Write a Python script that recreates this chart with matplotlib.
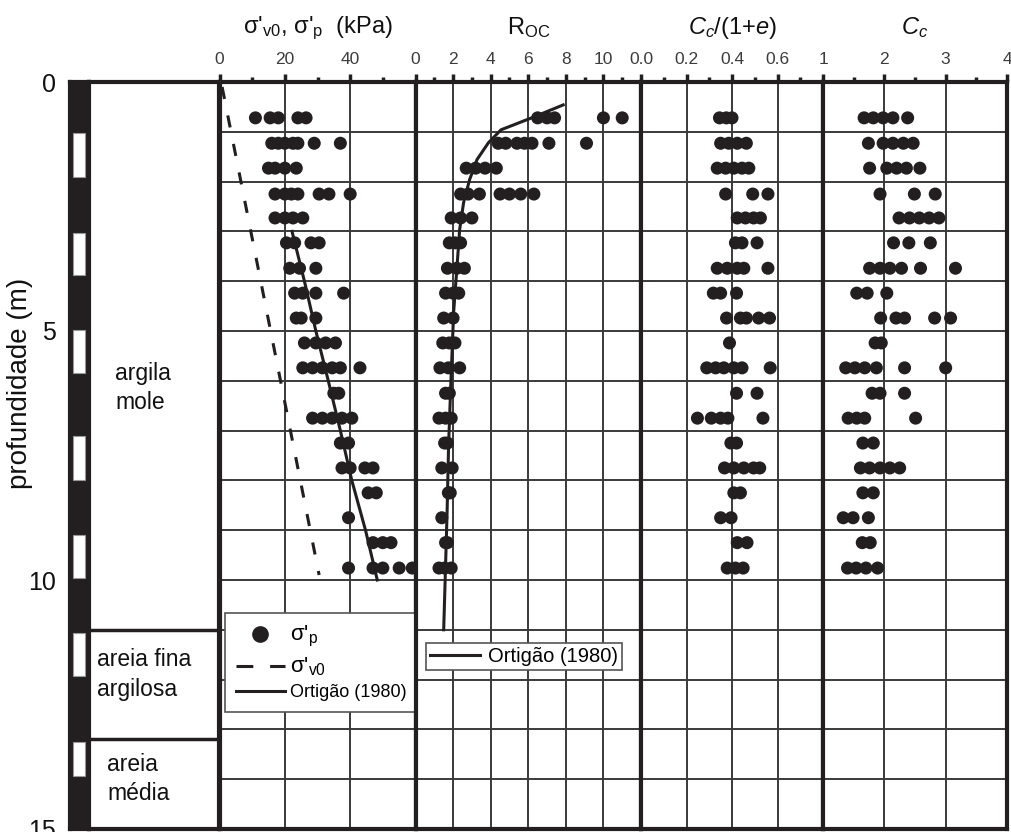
import numpy as np
import matplotlib
matplotlib.use('Agg')
import matplotlib.pyplot as plt
from matplotlib.lines import Line2D
from matplotlib.patches import Rectangle

plt.rcParams['font.family'] = ['Liberation Sans', 'DejaVu Sans']
plt.rcParams['mathtext.fontset'] = 'custom'
plt.rcParams['mathtext.rm'] = 'Liberation Sans'
plt.rcParams['mathtext.it'] = 'Liberation Sans:italic'
plt.rcParams['mathtext.bf'] = 'Liberation Sans:bold'

# ---------------- data ----------------
row_depths = [0.72, 1.23, 1.73, 2.25, 2.73, 3.23, 3.74, 4.24, 4.74, 5.24,
              5.74, 6.25, 6.75, 7.25, 7.75, 8.25, 8.75, 9.25, 9.76]

sigma_p = [
    [11, 15.5, 18, 24, 26.5],
    [16, 18, 20, 22.5, 24, 29, 37],
    [15, 17, 20, 23.5],
    [17, 20, 22, 24, 30.5, 33.5, 40],
    [17, 20, 22.5, 25.5],
    [20.5, 23, 28, 30.5],
    [21.5, 24.5, 29.5],
    [23, 25.5, 29.5, 38],
    [23.5, 25, 29.5],
    [26, 29.5, 32.5, 35.5],
    [25.5, 28.5, 31.5, 34.5, 37, 43],
    [35, 36.5],
    [28.5, 31.5, 34.5, 37.5, 40.5],
    [37, 39.5],
    [37.5, 40, 44.5, 47],
    [45.5, 48],
    [39.5],
    [47, 50, 52.5],
    [39.5, 47, 50, 55, 59],
]

roc = [
    [6.5, 7.0, 7.4, 10.0, 11.0],
    [4.4, 4.8, 5.4, 5.8, 6.2, 7.1, 9.1],
    [2.7, 3.2, 3.7, 4.3],
    [2.4, 2.8, 3.4, 4.5, 5.0, 5.6, 6.3],
    [1.9, 2.4, 3.0],
    [1.8, 2.1, 2.4],
    [1.7, 2.2, 2.6],
    [1.6, 2.0, 2.3],
    [1.5, 2.0],
    [1.45, 1.8, 2.1],
    [1.3, 1.75, 2.35],
    [1.6, 1.8],
    [1.25, 1.6, 1.9],
    [1.55, 1.7],
    [1.4, 1.95],
    [1.75, 1.85],
    [1.4],
    [1.6, 1.7],
    [1.25, 1.55, 1.9],
]

cc_1e = [
    [0.345, 0.375, 0.40],
    [0.35, 0.386, 0.423, 0.463],
    [0.335, 0.372, 0.408, 0.444, 0.474],
    [0.372, 0.491, 0.558],
    [0.423, 0.459, 0.495, 0.525],
    [0.415, 0.444, 0.51],
    [0.335, 0.379, 0.423, 0.452, 0.558],
    [0.318, 0.35, 0.42],
    [0.376, 0.437, 0.463, 0.517, 0.565],
    [0.389],
    [0.289, 0.328, 0.364, 0.408, 0.444, 0.568],
    [0.42, 0.51],
    [0.248, 0.309, 0.35, 0.382, 0.536],
    [0.395, 0.42],
    [0.367, 0.408, 0.452, 0.495, 0.522],
    [0.408, 0.437],
    [0.35, 0.396],
    [0.423, 0.466],
    [0.379, 0.415, 0.449],
]

cc = [
    [1.67, 1.82, 1.98, 2.14, 2.38],
    [1.74, 1.98, 2.14, 2.31, 2.47],
    [1.76, 2.04, 2.2, 2.36, 2.58],
    [1.93, 2.49, 2.83],
    [2.24, 2.41, 2.57, 2.73, 2.89],
    [2.15, 2.4, 2.75],
    [1.76, 1.93, 2.09, 2.28, 2.59, 3.16],
    [1.55, 1.72, 2.04],
    [1.94, 2.19, 2.33, 2.82, 3.08],
    [1.85, 1.95],
    [1.37, 1.52, 1.68, 1.87, 2.33, 3.0],
    [1.8, 1.93, 2.33],
    [1.41, 1.55, 1.68, 2.51],
    [1.65, 1.82],
    [1.61, 1.76, 1.93, 2.09, 2.25],
    [1.65, 1.82],
    [1.33, 1.49, 1.74],
    [1.64, 1.77],
    [1.4, 1.54, 1.7, 1.89],
]

sigma_v0_depth = [0.1, 9.9]
sigma_v0 = [0.8, 30.5]

ortigao_sigma_depth = [3.0, 4.0, 5.0, 6.0, 7.0, 8.0, 9.0, 10.0]
ortigao_sigma = [22.2, 26.0, 29.5, 33.3, 37.0, 40.5, 44.7, 48.3]

ortigao_roc_depth = [0.46, 0.72, 0.96, 1.22, 1.56, 1.96, 2.42, 2.96, 3.7,
                     4.62, 5.96, 7.3, 8.66, 10.36, 11.0]
ortigao_roc = [7.86, 6.18, 4.55, 3.88, 3.27, 2.88, 2.56, 2.35, 2.21,
               2.03, 1.89, 1.76, 1.68, 1.55, 1.5]

soil_labels = ['argila\nmole', 'areia fina\nargilosa', 'areia\nmédia']
soil_bounds = [11.0, 13.2]
soil_label_depth = [6.15, 11.9, 14.0]
soil_label_x = [0.2, 0.06, 0.14]

strip_white_top = [1.03, 3.03, 4.97, 7.10, 9.10, 11.06, 13.26]
strip_white_len = [0.88, 0.85, 0.88, 0.90, 0.86, 0.86, 0.68]

depth_ticks = [0, 5, 10, 15]
depth_ticklabels = ['0', '5', '10', '15']

panel_xlims = [(0, 60), (0, 12), (0, 0.8), (1, 4)]
panel_major = [[0, 20, 40], [0, 2, 4, 6, 8, 10], [0, 0.2, 0.4, 0.6], [1, 2, 3, 4]]
panel_major_labels = [['0', '20', '40'], ['0', '2', '4', '6', '8', '10'],
                      ['0.0', '0.2', '0.4', '0.6'], ['1', '2', '3', '4']]
panel_minor = [[10, 30, 50], [1, 3, 5, 7, 9, 11], [0.1, 0.3, 0.5, 0.7], [1.5, 2.5, 3.5]]
panel_titles = ["σ'$_\\mathregular{v0}$, σ'$_\\mathregular{p}$  (kPa)",
                "R$_\\mathregular{OC}$",
                "$C_c$/(1+$e$)",
                "$C_c$"]
panel_data = [sigma_p, roc, cc_1e, cc]

# ---------------- layout ----------------
W, H = 1011, 832
fig = plt.figure(figsize=(W / 100, H / 100), dpi=100)
fig.patch.set_facecolor('white')

INK = '#231f20'
GRID = '#3a3a3a'
TICKTXT = '#3c3c3c'
Y_TOP, Y_BOT = 82, 829


def add_px_axes(x0, x1, y0=Y_TOP, y1=Y_BOT):
    return fig.add_axes([x0 / W, 1 - y1 / H, (x1 - x0) / W, (y1 - y0) / H])


def flatten(rows):
    xs, ys = [], []
    for d, vals in zip(row_depths, rows):
        xs.extend(vals)
        ys.extend([d] * len(vals))
    return xs, ys


# strip
ax_s = add_px_axes(70, 89)
ax_s.set_facecolor(INK)
ax_s.set_xlim(0, 1)
ax_s.set_ylim(15, 0)
ax_s.set_xticks([])
ax_s.set_yticks(depth_ticks)
ax_s.set_yticklabels(depth_ticklabels)
ax_s.tick_params(axis='y', length=0, pad=10, labelsize=18, labelcolor='#111111')
for sp in ax_s.spines.values():
    sp.set_color(INK)
    sp.set_linewidth(3)
for t, l in zip(strip_white_top, strip_white_len):
    ax_s.add_patch(Rectangle((0.16, t), 0.62, l, facecolor='white',
                             edgecolor='#999999', lw=0.8))

fig.text(20 / W, 1 - 383 / H, 'profundidade (m)', rotation=90, ha='center',
         va='center', fontsize=20, color='#111111')

# soil column
ax_c = add_px_axes(89, 219.5)
ax_c.set_xlim(0, 1)
ax_c.set_ylim(15, 0)
ax_c.set_xticks([])
ax_c.set_yticks([])
for sp in ax_c.spines.values():
    sp.set_color(INK)
    sp.set_linewidth(3)
for b in soil_bounds:
    ax_c.axhline(b, color=INK, lw=2.5)
for lab, d, x in zip(soil_labels, soil_label_depth, soil_label_x):
    ax_c.text(x, d, lab, ha='left', va='center', fontsize=16.5, linespacing=1.35,
              color='#111111')

# panels
edges = [219.5, 415.5, 641, 823, 1007]
axes = []
for i in range(4):
    ax = add_px_axes(edges[i], edges[i + 1])
    axes.append(ax)
    ax.set_xlim(*panel_xlims[i])
    ax.set_ylim(15, 0)
    ax.xaxis.tick_top()
    ax.set_xticks(panel_major[i])
    ax.set_xticklabels(panel_major_labels[i])
    ax.set_xticks(panel_minor[i], minor=True)
    ax.set_yticks(np.arange(1, 15))
    ax.tick_params(axis='y', length=0, labelleft=False)
    ax.tick_params(axis='x', which='major', length=6, width=2.5, pad=5,
                   labelsize=12.5, labelcolor=TICKTXT, color=INK)
    ax.tick_params(axis='x', which='minor', length=3.5, width=2.5, color=INK)
    ax.grid(True, which='major', color=GRID, lw=1.4)
    ax.set_axisbelow(True)
    for sp in ax.spines.values():
        sp.set_color(INK)
        sp.set_linewidth(3)
    xs, ys = flatten(panel_data[i])
    ax.scatter(xs, ys, s=88, color=INK, edgecolors='none', zorder=3, clip_on=False)
    xc = (edges[i] + edges[i + 1]) / 2
    fig.text(xc / W, 1 - 28 / H, panel_titles[i], ha='center', va='center',
             fontsize=17, color='#111111')

ax1, ax2 = axes[0], axes[1]
ax1.plot(sigma_v0, sigma_v0_depth, color=INK, lw=2.2, ls=(0, (4.0, 5.5)), zorder=4)
ax1.plot(ortigao_sigma, ortigao_sigma_depth, color=INK, lw=2.2, zorder=4)
ax2.plot(ortigao_roc, ortigao_roc_depth, color=INK, lw=2.2, zorder=4)

# legends
h_dot = Line2D([], [], ls='none', marker='o', ms=11, color=INK)
h_dash = Line2D([], [], ls=(0, (5.5, 5.5)), lw=2.2, color=INK)
h_line = Line2D([], [], ls='-', lw=2.2, color=INK)
leg = ax1.legend([h_dot, h_dash, h_line],
                 ["σ'$_\\mathregular{p}$", "σ'$_\\mathregular{v0}$", 'Ortigão (1980)'],
                 loc='upper left', bbox_to_anchor=(225 / W, 1 - 613 / H),
                 bbox_transform=fig.transFigure, fontsize=13, frameon=True,
                 fancybox=False, framealpha=1, edgecolor='#555555',
                 borderpad=0.6, labelspacing=0.35, handlelength=2.7,
                 handletextpad=0.3, borderaxespad=0)
leg.get_frame().set_linewidth(1.2)
leg.set_zorder(10)
for t in leg.get_texts()[:2]:
    t.set_fontsize(16)

h_line2 = Line2D([], [], ls='-', lw=2.2, color=INK)
leg2 = ax2.legend([h_line2], ['Ortigão (1980)'], loc='upper left',
                  bbox_to_anchor=(426 / W, 1 - 643 / H),
                  bbox_transform=fig.transFigure, fontsize=14.5, frameon=True,
                  fancybox=False, framealpha=1, edgecolor='#555555',
                  borderpad=0.2, handlelength=2.5, handletextpad=0.4,
                  borderaxespad=0)
leg2.get_frame().set_linewidth(1.2)
leg2.set_zorder(10)

fig.savefig('out.png', dpi=100, facecolor='white')
